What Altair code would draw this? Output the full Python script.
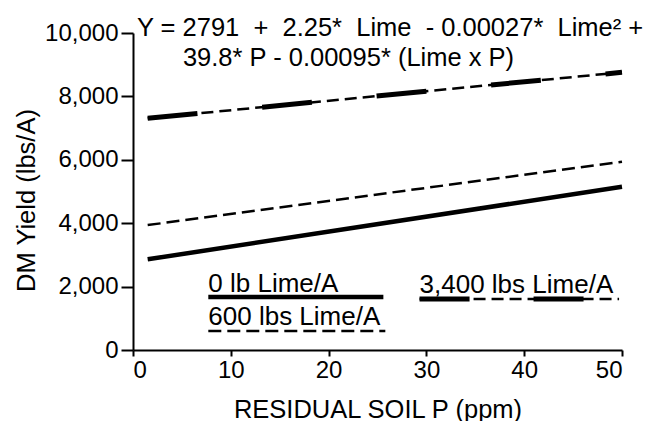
import altair as alt
import pandas as pd

# ---- data ----
p_values = [1.5, 50]
yield_0 = [2860, 5150]
yield_600 = [3940, 5940]
yield_3400 = [7310, 8760]

x_ticks = [0, 10, 20, 30, 40, 50]
y_ticks = [0, 2000, 4000, 6000, 8000, 10000]

legend_labels = ["0 lb Lime/A", "600 lbs Lime/A", "3,400 lbs Lime/A"]
NB = "\u00a0"
equation_lines = [f"Y = 2791{NB} +{NB} 2.25*{NB} Lime{NB} - 0.00027*{NB} Lime\u00b2 +",
                  "39.8* P - 0.00095* (Lime x P)"]

FONT = "Liberation Sans"

x_enc = alt.X("P:Q", scale=alt.Scale(domain=[0, 50], nice=False),
              axis=alt.Axis(values=x_ticks, title="RESIDUAL SOIL P (ppm)",
                            tickSize=6, labelPadding=2,
                            titleBaseline="alphabetic", titleY=67))
y_enc = alt.Y("Yield:Q", scale=alt.Scale(domain=[0, 10000], nice=False),
              axis=alt.Axis(values=y_ticks, format=",d", title="DM Yield (lbs/A)",
                            tickSize=12, labelPadding=3,
                            titleBaseline="alphabetic", titleX=-99, titleY=167,
                            titleAngle=-90, titleAlign="center"))

df0 = pd.DataFrame({"P": p_values, "Yield": yield_0})
df600 = pd.DataFrame({"P": p_values, "Yield": yield_600})
df3400 = pd.DataFrame({"P": p_values, "Yield": yield_3400})

line0 = alt.Chart(df0).mark_line(color="black", strokeWidth=4.5, strokeCap="butt").encode(x=x_enc, y=y_enc)
line600 = alt.Chart(df600).mark_line(color="black", strokeWidth=2.5, strokeDash=[13, 6],
                                     strokeCap="butt").encode(x=x_enc, y=y_enc)
line3400_thin = alt.Chart(df3400).mark_line(color="black", strokeWidth=2.5, strokeDash=[12, 6],
                                            strokeCap="butt").encode(x=x_enc, y=y_enc)
line3400_thick = alt.Chart(df3400).mark_line(color="black", strokeWidth=5, strokeDash=[50, 65],
                                             strokeCap="butt").encode(x=x_enc, y=y_enc)

# ---- in-plot legend ----
leg_text_df = pd.DataFrame({"P": [7.7, 7.7, 29.3], "Yield": [1830, 790, 1800],
                            "label": legend_labels})
leg_text = alt.Chart(leg_text_df).mark_text(align="left", baseline="alphabetic", font=FONT,
                                            fontSize=26, color="black").encode(
    x=x_enc, y=y_enc, text="label:N")

rule0 = alt.Chart(pd.DataFrame({"P": [7.7], "P2": [25.6], "Yield": [1672]})).mark_rule(
    color="black", strokeWidth=4.5).encode(x=x_enc, x2="P2", y=y_enc)
rule600 = alt.Chart(pd.DataFrame({"P": [7.7], "P2": [25.8], "Yield": [600]})).mark_rule(
    color="black", strokeWidth=2.5, strokeDash=[13, 6]).encode(x=x_enc, x2="P2", y=y_enc)
rule3400_thin = alt.Chart(pd.DataFrame({"P": [29.3], "P2": [49.7], "Yield": [1609]})).mark_rule(
    color="black", strokeWidth=2.5, strokeDash=[12, 6]).encode(x=x_enc, x2="P2", y=y_enc)
rule3400_thick = alt.Chart(pd.DataFrame({"P": [29.3], "P2": [49.7], "Yield": [1609]})).mark_rule(
    color="black", strokeWidth=5, strokeDash=[50, 64]).encode(x=x_enc, x2="P2", y=y_enc)

# ---- regression equation ----
eq_df = pd.DataFrame({"P": [0.4, 5.1], "Yield": [9905, 8959], "label": equation_lines})
eq_text = alt.Chart(eq_df).mark_text(align="left", baseline="alphabetic", font=FONT,
                                     fontSize=25.5, color="black").encode(
    x=x_enc, y=y_enc, text="label:N")

chart = alt.layer(
    line0, line600, line3400_thin, line3400_thick,
    rule0, rule600, rule3400_thin, rule3400_thick,
    leg_text, eq_text,
).properties(
    width=489, height=317,
    padding={"left": 125, "top": 25, "right": 31, "bottom": 71},
    autosize=alt.AutoSizeParams(type="none"),
    background="white",
).configure_view(stroke=None).configure_axis(
    grid=False, domainColor="black", domainWidth=2, tickColor="black", tickWidth=2,
    labelFont=FONT, labelFontSize=24, labelColor="black",
    titleFont=FONT, titleFontSize=25.5, titleFontWeight="normal", titleColor="black",
)

chart.save("out.html", embed_options={"renderer": "svg", "actions": False})
